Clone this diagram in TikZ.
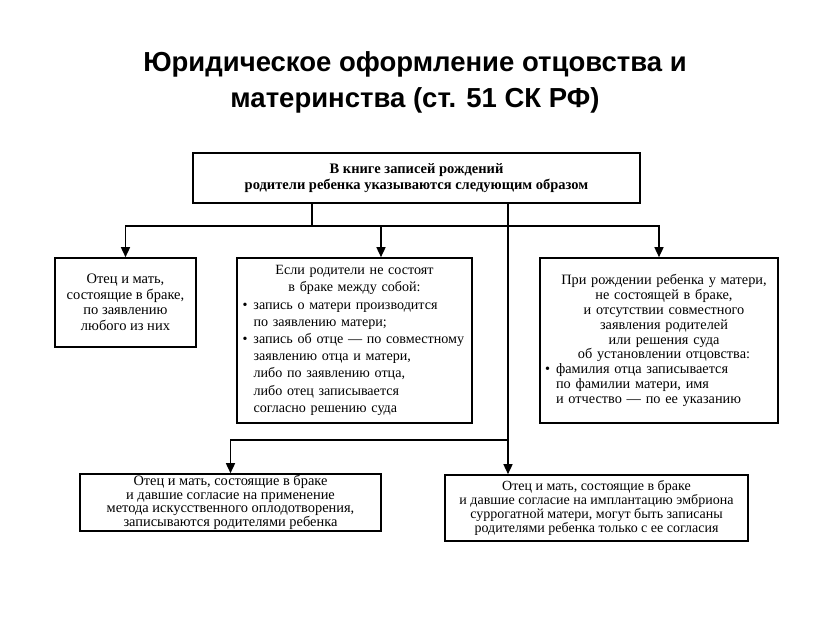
\documentclass[tikz,border=0pt]{standalone}
\usepackage{fontspec}
\setmainfont{Liberation Serif}
\newfontfamily\titlefont{Liberation Sans}
\usetikzlibrary{arrows.meta, positioning, calc}
\tikzstyle{block} = [rectangle, draw=black, line width=1.6pt, inner sep=0pt, align=center, font=\fontsize{14.3}{16}\selectfont]
\tikzstyle{line} = [line width=1.5pt]
\tikzstyle{arrow} = [line width=1.5pt, -{Triangle[width=9pt,length=10pt]}]
\newcommand{\bul}{\makebox[11pt][l]{•}}
\newcommand{\ind}{\hspace*{11pt}}

\begin{document}
\begin{tikzpicture}[x=1pt, y=-1pt]
    \useasboundingbox (0,0) rectangle (831,623);

    \node (title) at (415,82) [align=center, font=\titlefont\bfseries\fontsize{27.5}{36}\selectfont]
        {Юридическое оформление отцовства и\\материнства (ст. 51 СК РФ)};

    \node (top) at (416.5,178) [block, minimum width=447pt, minimum height=50pt, font=\bfseries\fontsize{14.5}{16}\selectfont]
        {В книге записей рождений\\родители ребенка указываются следующим образом};

    \node (left) at (125.5,302.5) [block, minimum width=141pt, minimum height=89pt, font=\fontsize{14.5}{15.5}\selectfont]
        {Отец и мать,\\состоящие в браке,\\по заявлению\\любого из них};
    \node (mid) at (354.5,340.5) [block, minimum width=235pt, minimum height=165pt, text width=224pt, align=left, font=\fontsize{14.1}{17.2}\selectfont]
        {{\centering Если родители не состоят\\в браке между собой:\par}
        \bul запись о матери производится\\
        \ind по заявлению матери;\\
        \bul запись об отце — по совместному\\
        \ind заявлению отца и матери,\\
        \ind либо по заявлению отца,\\
        \ind либо отец записывается\\
        \ind согласно решению суда};
    \node (right) at (659,340.5) [block, minimum width=238pt, minimum height=165pt, text width=228pt, align=left, font=\fontsize{14.3}{14.8}\selectfont]
        {{\centering\hspace*{10pt}При рождении ребенка у матери,\\\hspace*{10pt}не состоящей в браке,\\\hspace*{10pt}и отсутствии совместного\\\hspace*{10pt}заявления родителей\\\hspace*{10pt}или решения суда\\\hspace*{10pt}об установлении отцовства:\par}
        \bul фамилия отца записывается\\
        \ind по фамилии матери, имя\\
        \ind и отчество — по ее указанию};

    \node (botL) at (230.5,502.5) [block, minimum width=301pt, minimum height=57pt, font=\fontsize{14.4}{13.6}\selectfont]
        {Отец и мать, состоящие в браке\\и давшие согласие на применение\\метода искусственного оплодотворения,\\записываются родителями ребенка};
    \node (botR) at (596.5,508) [block, minimum width=303pt, minimum height=66pt, font=\fontsize{14}{14.2}\selectfont]
        {Отец и мать, состоящие в браке\\и давшие согласие на имплантацию эмбриона\\суррогатной матери, могут быть записаны\\родителями ребенка только с ее согласия};

    \coordinate (fork) at (312,226);
    \coordinate (trunk) at (508,440);

    \draw [line] (top.south -| fork) -- (fork);
    \draw [arrow] (fork) -| (left.north);
    \draw [arrow] (fork) -| ($(mid.north)+(26.5,0)$);
    \draw [arrow] (fork) -| (right.north);
    \draw [arrow] (top.south -| trunk) -- (trunk |- botR.north);
    \draw [arrow] (trunk) -| (botL.north);
\end{tikzpicture}
\end{document}
